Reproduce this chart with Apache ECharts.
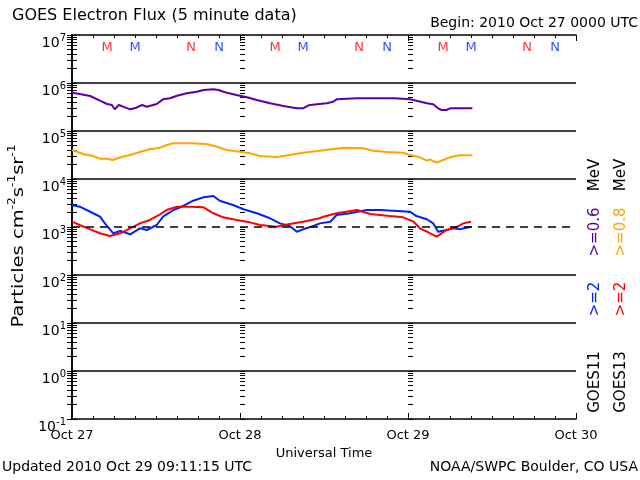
<!DOCTYPE html>
<html>
<head>
<meta charset="utf-8">
<script src="https://cdn.jsdelivr.net/npm/echarts@6/dist/echarts.min.js"></script>
<style>html,body{margin:0;padding:0;background:#fff;}#c{width:640px;height:480px;}</style>
</head>
<body>
<div id="c"></div>
<script>
// ---- data (hours since 2010 Oct 27 00:00 UTC, flux in particles cm^-2 s^-1 sr^-1) ----
const dayLabels = ['Oct 27', 'Oct 28', 'Oct 29', 'Oct 30'];
const decadeTicks = [0.1, 1, 10, 100, 1000, 1e4, 1e5, 1e6, 1e7];

const g11e06Hours = [0,1.1,2.6,4,5,5.7,6.1,6.7,7.3,8.3,9.2,10,10.7,12.1,13,14,15,16.4,17.8,18.8,20.2,20.9,22.1,23.5,25,26.4,28.3,30.2,32.1,33,33.8,35,36.4,37.3,37.8,40.7,46.1,48.3,49.2,50.7,51.6,52.3,52.8,53.5,54,57.2];
const g11e06Flux = [628000,590000,536000,428000,365000,348000,283000,348000,321000,283000,306000,348000,321000,365000,457000,480000,543000,610000,659000,714000,739000,714000,628000,562000,504000,442000,378000,332000,297000,297000,343000,360000,378000,407000,457000,480000,480000,457000,428000,378000,360000,297000,274000,274000,297000,297000];

const g13e08Hours = [0,1.6,3,4,5,5.8,6.9,8.3,9.7,11.1,12.6,13.5,14.5,16.9,19.2,20.7,22.1,24,25.4,26.9,29.2,31.1,33,35.4,37.3,38.8,41.6,43,45,47.3,48.3,49.7,50.7,51.1,52.1,53,54,55.4,57.2];
const g13e08Flux = [40200,33200,30200,26500,26500,24900,28300,31600,36500,41600,44900,51100,55400,55400,53600,47100,40200,37100,34300,30200,28700,31600,35300,38900,42200,44900,43700,38900,36500,35300,31600,28300,24100,25700,21900,24900,28300,31200,31200];

const g11e2Hours = [0,1.1,2.6,4,4.7,5.9,6.9,8.3,9.7,10.7,12.1,13,14.5,15.9,17.3,18.8,20.2,21.1,23,24.5,26.4,28.3,29.7,31.1,32.1,33,34.5,35.4,36.9,37.8,39.7,42.1,44,48.3,49.2,50.7,51.6,52.3,53.5,54.5,55.4,57];
const g11e2Flux = [2870,2650,2080,1640,1190,740,826,705,940,866,1100,1640,2260,2740,3530,4160,4420,3530,2870,2340,1930,1520,1190,1050,798,895,1050,1190,1290,1780,1930,2260,2260,2080,1690,1450,1190,798,866,940,895,1010];

const g13e2Hours = [0,1.1,2.6,4,5.4,6.9,8.3,9.7,11.1,12.6,13.5,15,16.9,18.8,20.2,21.6,23.5,25.4,26.9,29.2,31.1,33,35.4,35.9,37.8,40.7,42.6,45.4,47.3,48.8,49.7,50.7,52.1,53.5,55,55.9,57];
const g13e2Flux = [1290,1100,895,740,649,740,940,1190,1400,1840,2260,2650,2650,2570,1930,1590,1400,1250,1100,1010,1150,1290,1520,1640,1930,2260,1870,1690,1590,1290,940,798,628,866,1010,1190,1290];

// local midnight (M) / noon (N) marker times
const g13MarkHours = [5, 17, 29, 41, 53, 65];
const g13MarkText  = ['M', 'N', 'M', 'N', 'M', 'N'];
const g11MarkHours = [9, 21, 33, 45, 57, 69];
const g11MarkText  = ['M', 'N', 'M', 'N', 'M', 'N'];

// ---- build ----
const FONT = 'DejaVu Sans';
const C_PURPLE = '#5a00aa', C_ORANGE = '#ffa500', C_BLUE = '#0022ff', C_RED = '#ff0000';

const minorTicks = [];
for (let e = -1; e < 7; e++) for (let m = 1; m <= 9; m++) minorTicks.push(m * Math.pow(10, e));
minorTicks.push(1e7);

const zip = (h, f) => h.map((x, i) => [x, f[i]]);
const markLevel = 5.4e6;

function yAx(extra) {
  return Object.assign({
    type: 'log', logBase: 10, min: 0.1, max: 1e7,
    axisLine: { show: false },
    axisTick: { show: true, inside: true, length: 5, customValues: minorTicks, lineStyle: { color: '#000', width: 1 } },
    axisLabel: { show: false },
    splitLine: { show: false }
  }, extra);
}

const chart = echarts.init(document.getElementById('c'), null, { renderer: 'canvas' });
const option = {
  animation: false,
  backgroundColor: '#fff',
  textStyle: { fontFamily: FONT },
  grid: { left: 72, right: 64, top: 35, bottom: 61 },
  xAxis: [
    { type: 'value', position: 'bottom', min: 0, max: 72, interval: 24,
      axisLine: { show: true, lineStyle: { color: '#000', width: 1.5 } },
      axisTick: { show: true, inside: true, length: 6, lineStyle: { color: '#000' } },
      minorTick: { show: true, splitNumber: 8, length: 3, lineStyle: { color: '#000' } },
      axisLabel: { fontFamily: FONT, fontSize: 13, color: '#000', margin: 10, formatter: v => dayLabels[Math.round(v / 24)] },
      splitLine: { show: false },
      name: 'Universal Time', nameLocation: 'middle', nameGap: 28,
      nameTextStyle: { fontFamily: FONT, fontSize: 13, color: '#000' } },
    { type: 'value', position: 'top', min: 0, max: 72, interval: 24,
      axisLine: { show: true, lineStyle: { color: '#000', width: 1.5 } },
      axisTick: { show: true, inside: true, length: 6, lineStyle: { color: '#000' } },
      minorTick: { show: true, splitNumber: 8, length: 3, lineStyle: { color: '#000' } },
      axisLabel: { show: false }, splitLine: { show: false } }
  ],
  yAxis: [
    yAx({ position: 'left',
      axisLine: { show: true, lineStyle: { color: '#000', width: 1.5 } },
      axisLabel: { show: true, customValues: decadeTicks, margin: 6,
        formatter: v => '{b|10}{s|' + Math.round(Math.log10(v)) + '}',
        rich: { b: { fontFamily: FONT, fontSize: 14, color: '#000', padding: [16, 0, 0, 0] },
                s: { fontFamily: FONT, fontSize: 10, color: '#000', padding: [6, 0, 0, 0] } } } }),
    yAx({ position: 'right', axisLine: { show: true, lineStyle: { color: '#000', width: 1.5 } } }),
    yAx({ position: 'left', offset: -168 }),
    yAx({ position: 'left', offset: -336 })
  ],
  series: [
    { type: 'line', name: 'GOES11 >=0.6 MeV', data: zip(g11e06Hours, g11e06Flux), showSymbol: false,
      lineStyle: { color: C_PURPLE, width: 2 }, itemStyle: { color: C_PURPLE }, z: 3,
      markLine: { silent: true, symbol: 'none', label: { show: false },
        lineStyle: { color: '#000', width: 1.5, type: 'solid' },
        data: [ { yAxis: 1e6 }, { yAxis: 1e5 }, { yAxis: 1e4 }, { yAxis: 100 }, { yAxis: 10 }, { yAxis: 1 },
                { yAxis: 1000, lineStyle: { type: [8, 6], width: 1.5, color: '#000' } } ] } },
    { type: 'line', name: 'GOES13 >=0.8 MeV', data: zip(g13e08Hours, g13e08Flux), showSymbol: false,
      lineStyle: { color: C_ORANGE, width: 2 }, itemStyle: { color: C_ORANGE }, z: 3 },
    { type: 'line', name: 'GOES11 >=2 MeV', data: zip(g11e2Hours, g11e2Flux), showSymbol: false,
      lineStyle: { color: C_BLUE, width: 2 }, itemStyle: { color: C_BLUE }, z: 3 },
    { type: 'line', name: 'GOES13 >=2 MeV', data: zip(g13e2Hours, g13e2Flux), showSymbol: false,
      lineStyle: { color: C_RED, width: 2 }, itemStyle: { color: C_RED }, z: 4 },
    { type: 'scatter', name: 'G13 M/N', symbolSize: 0, silent: true,
      data: g13MarkHours.map((h, i) => ({ value: [h, markLevel], name: g13MarkText[i] })),
      label: { show: true, position: 'inside', formatter: p => p.name, color: C_RED, fontFamily: FONT, fontSize: 13 } },
    { type: 'scatter', name: 'G11 M/N', symbolSize: 0, silent: true,
      data: g11MarkHours.map((h, i) => ({ value: [h, markLevel], name: g11MarkText[i] })),
      label: { show: true, position: 'inside', formatter: p => p.name, color: C_BLUE, fontFamily: FONT, fontSize: 13 } }
  ],
  graphic: [
    { type: 'text', left: 12, top: 8, style: { text: 'GOES Electron Flux (5 minute data)', font: '16px "DejaVu Sans"', fill: '#000' } },
    { type: 'text', right: 2, top: 16, style: { text: 'Begin: 2010 Oct 27 0000 UTC', font: '14px "DejaVu Sans"', fill: '#000' } },
    { type: 'text', left: 2, top: 460, style: { text: 'Updated 2010 Oct 29 09:11:15 UTC', font: '14px "DejaVu Sans"', fill: '#000' } },
    { type: 'text', right: 2, top: 460, style: { text: 'NOAA/SWPC Boulder, CO USA', font: '14px "DejaVu Sans"', fill: '#000' } },
    { type: 'text', x: 15, y: 236, rotation: Math.PI / 2, scaleX: 1.22,
      style: { text: '{n|Particles cm}{s|-2}{n|s}{s|-1}{n|sr}{s|-1}', align: 'center', verticalAlign: 'middle',
        rich: { n: { fontFamily: FONT, fontSize: 16, fill: '#000', color: '#000', padding: [8, 0, 0, 0] },
                s: { fontFamily: FONT, fontSize: 10, fill: '#000', color: '#000', padding: [0, 0, 6, 0] } } } },
    { type: 'text', x: 595, y: 382, rotation: Math.PI / 2, style: { text: 'GOES11', font: '15px "DejaVu Sans"', fill: '#000', align: 'center', verticalAlign: 'middle' } },
    { type: 'text', x: 595, y: 299, rotation: Math.PI / 2, style: { text: '>=2', font: '15px "DejaVu Sans"', fill: C_BLUE, align: 'center', verticalAlign: 'middle' } },
    { type: 'text', x: 595, y: 232, rotation: Math.PI / 2, style: { text: '>=0.6', font: '15px "DejaVu Sans"', fill: C_PURPLE, align: 'center', verticalAlign: 'middle' } },
    { type: 'text', x: 595, y: 175, rotation: Math.PI / 2, style: { text: 'MeV', font: '15px "DejaVu Sans"', fill: '#000', align: 'center', verticalAlign: 'middle' } },
    { type: 'text', x: 621, y: 382, rotation: Math.PI / 2, style: { text: 'GOES13', font: '15px "DejaVu Sans"', fill: '#000', align: 'center', verticalAlign: 'middle' } },
    { type: 'text', x: 621, y: 299, rotation: Math.PI / 2, style: { text: '>=2', font: '15px "DejaVu Sans"', fill: C_RED, align: 'center', verticalAlign: 'middle' } },
    { type: 'text', x: 621, y: 232, rotation: Math.PI / 2, style: { text: '>=0.8', font: '15px "DejaVu Sans"', fill: C_ORANGE, align: 'center', verticalAlign: 'middle' } },
    { type: 'text', x: 621, y: 175, rotation: Math.PI / 2, style: { text: 'MeV', font: '15px "DejaVu Sans"', fill: '#000', align: 'center', verticalAlign: 'middle' } }
  ]
};
chart.setOption(option);
</script>
</body>
</html>
